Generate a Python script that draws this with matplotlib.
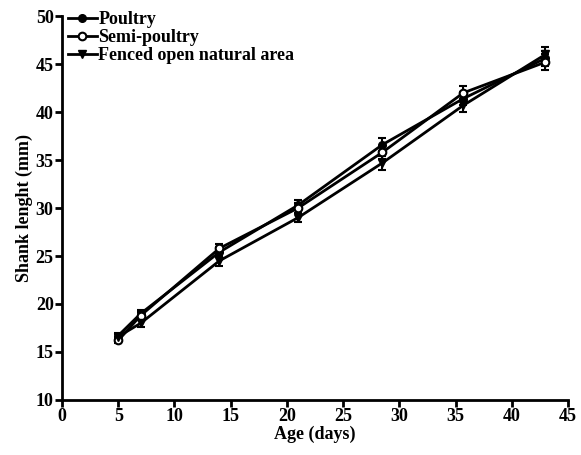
import matplotlib
matplotlib.use("Agg")
import matplotlib.pyplot as plt

days = [5, 7, 14, 21, 28.5, 35.7, 43]
poultry = [16.7, 19.0, 25.4, 30.3, 36.6, 41.4, 45.6]
poultry_err = [0.3, 0.4, 0.5, 0.5, 0.7, 0.7, 0.8]
semi = [16.2, 18.8, 25.8, 30.0, 35.8, 42.0, 45.2]
semi_err = [0.3, 0.4, 0.5, 0.5, 0.7, 0.7, 0.8]
fenced = [16.6, 18.0, 24.5, 29.0, 34.7, 40.7, 46.0]
fenced_err = [0.3, 0.4, 0.5, 0.5, 0.7, 0.7, 0.8]

xticks = [0, 5, 10, 15, 20, 25, 30, 35, 40, 45]
yticks = [10, 15, 20, 25, 30, 35, 40, 45, 50]

plt.rcParams['font.family'] = ['Liberation Serif', 'DejaVu Serif']

fig = plt.figure(figsize=(5.81, 4.55), dpi=100)
ax = fig.add_axes([0.1067, 0.1209, 0.8709, 0.8439])

common = dict(color='black', linewidth=2.0, capsize=3, elinewidth=1.5, capthick=1.5)
c1 = ax.errorbar(days, poultry, yerr=poultry_err, marker='o', markersize=5.5,
                 markerfacecolor='black', markeredgecolor='black', label='Poultry', **common)
c2 = ax.errorbar(days, semi, yerr=semi_err, marker='o', markersize=5.5,
                 markerfacecolor='white', markeredgecolor='black', markeredgewidth=1.5,
                 label='Semi-poultry', **common)
c3 = ax.errorbar(days, fenced, yerr=fenced_err, marker='v', markersize=5.5,
                 markerfacecolor='black', markeredgecolor='black',
                 label='Fenced open natural area', **common)

ax.set_xlim(0, 45)
ax.set_ylim(10, 50)
ax.set_xticks(xticks)
ax.set_yticks(yticks)
for s in ['top', 'right']:
    ax.spines[s].set_visible(False)
for s in ['left', 'bottom']:
    ax.spines[s].set_linewidth(2)
ax.tick_params(direction='out', length=5, width=2, labelsize=13, pad=1)
for lab in ax.get_xticklabels() + ax.get_yticklabels():
    lab.set_fontweight('bold')

ax.set_xlabel('Age (days)', fontsize=13, fontweight='bold', labelpad=0)
ax.set_ylabel('Shank lenght (mm)', fontsize=13, fontweight='bold', labelpad=2)

handles = [c1[0], c2[0], c3[0]]
labels = ['Poultry', 'Semi-poultry', 'Fenced open natural area']
leg = ax.legend(handles, labels, loc='upper left', bbox_to_anchor=(-0.01, 1.04), frameon=False,
                fontsize=13, handlelength=1.6, handletextpad=0.1, labelspacing=0.05,
                borderaxespad=0.2)
for t in leg.get_texts():
    t.set_fontweight('bold')

fig.savefig('out.png', dpi=100)
